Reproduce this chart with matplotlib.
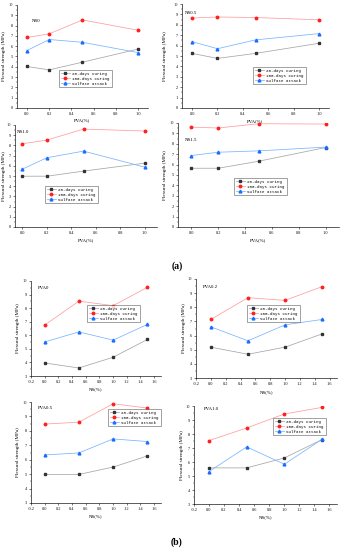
import matplotlib
matplotlib.use("Agg")
import matplotlib.pyplot as plt
from matplotlib.ticker import MultipleLocator

W, H = 342, 550

# x values
pva = [0.0, 0.2, 0.5, 1.0]
ns = [0.0, 0.5, 1.0, 1.5]

series_names = ["28-days curing", "100-days curing", "Sulfate attack"]

# (a) strength vs PVA, one panel per NS content
ns0_28 = [4.03, 3.70, 4.45, 5.72]
ns0_100 = [6.85, 7.20, 8.55, 7.55]
ns0_sul = [5.58, 6.65, 6.38, 5.38]

ns05_28 = [5.25, 4.77, 5.25, 6.22]
ns05_100 = [8.65, 8.75, 8.70, 8.48]
ns05_sul = [6.38, 5.70, 6.55, 7.15]

ns10_28 = [4.98, 4.98, 5.48, 6.26]
ns10_100 = [8.16, 8.52, 9.60, 9.41]
ns10_sul = [5.67, 6.79, 7.44, 5.87]

ns15_28 = [5.65, 5.65, 6.32, 7.64]
ns15_100 = [9.60, 9.52, 9.93, 9.90]
ns15_sul = [6.87, 7.19, 7.32, 7.68]

# (b) strength vs NS, one panel per PVA content
pva0_28 = [3.96, 3.59, 4.38, 5.69]
pva0_100 = [6.75, 8.52, 8.18, 9.53]
pva0_sul = [5.51, 6.25, 5.64, 6.80]

pva02_28 = [5.18, 4.68, 5.18, 6.12]
pva02_100 = [7.14, 8.68, 8.49, 9.46]
pva02_sul = [6.62, 5.63, 6.76, 7.14]

pva05_28 = [4.98, 4.98, 5.49, 6.26]
pva05_100 = [8.47, 8.60, 9.88, 9.58]
pva05_sul = [6.33, 6.47, 7.44, 7.26]

pva10_28 = [5.58, 5.58, 6.29, 7.60]
pva10_100 = [7.53, 8.43, 9.43, 9.90]
pva10_sul = [5.32, 7.08, 5.84, 7.62]

serif = "Liberation Serif"
mono = "Liberation Mono"

fig = plt.figure(figsize=(W / 100, H / 100), dpi=100)
fig.patch.set_facecolor("white")


def px_axes(l, t, r, b):
    return fig.add_axes([l / W, 1 - b / H, (r - l) / W, (b - t) / H])


def panel(box, x, d28, d100, dsul, title, title_pos, xlim, ylim, xlabel,
          xlabel_y, ylabel_x, leg_xy, xticks):
    ax = px_axes(*box)
    ax.plot(x, d28, color="#a6a6a6", lw=0.55, marker="s", ms=1.8,
            mfc="#333333", mec="#333333", label=series_names[0])
    ax.plot(x, d100, color="#ff9d9d", lw=0.55, marker="o", ms=1.8,
            mfc="#ff2020", mec="#ff2020", label=series_names[1])
    ax.plot(x, dsul, color="#7ab4ff", lw=0.55, marker="^", ms=2.0,
            mfc="#1a6dff", mec="#1a6dff", label=series_names[2])
    ax.set_xlim(*xlim)
    ax.set_ylim(*ylim)
    ax.set_xticks(xticks)
    ax.set_xticklabels([f"{v:.1f}" for v in xticks])
    ax.yaxis.set_major_locator(MultipleLocator(1))
    ax.yaxis.set_minor_locator(MultipleLocator(0.5))
    for s in ["top", "right"]:
        ax.spines[s].set_visible(False)
    for s in ["left", "bottom"]:
        ax.spines[s].set_linewidth(0.45)
    ax.tick_params(which="major", length=1.5, width=0.4, pad=1.5,
                   labelsize=3.2, colors="#111111")
    ax.tick_params(which="minor", length=0.8, width=0.3)
    for lab in ax.get_xticklabels() + ax.get_yticklabels():
        lab.set_family(serif)
    ax.set_xlabel(xlabel, fontsize=3.5, family=serif)
    ax.set_ylabel("Flexural strength (MPa)", fontsize=3.7, family=serif)
    l, t, r, b = box
    ax.xaxis.set_label_coords(0.5, (b - xlabel_y) / (b - t))
    ax.yaxis.set_label_coords((ylabel_x - l) / (r - l), 0.5)
    ax.text(title_pos[0], title_pos[1], title, transform=ax.transAxes,
            fontsize=3.5, family=serif, va="center", ha="left")
    leg = ax.legend(loc="upper left",
                    bbox_to_anchor=(leg_xy[0] / W, 1 - leg_xy[1] / H),
                    bbox_transform=fig.transFigure, prop={"family": mono, "size": 3.0},
                    frameon=True, fancybox=False, edgecolor="#333333",
                    borderpad=0.4, handlelength=2.2, handletextpad=0.6,
                    labelspacing=0.25, borderaxespad=0)
    leg.get_frame().set_linewidth(0.4)
    return ax


a_ticks = [0.0, 0.2, 0.4, 0.6, 0.8, 1.0]
b_ticks = [-0.2, 0.0, 0.2, 0.4, 0.6, 0.8, 1.0, 1.2, 1.4, 1.6]

panel((17, 5, 148, 108), pva, ns0_28, ns0_100, ns0_sul, "NS0", (0.11, 0.84),
      (-0.09, 1.09), (0, 10), "PVA(%)", 118, 6, (59, 70), a_ticks)
panel((182, 4, 329, 108), pva, ns05_28, ns05_100, ns05_sul, "NS0.5", (0.02, 0.91),
      (-0.08, 1.08), (0, 10), "PVA(%)", 119, 167, (253, 67), a_ticks)
panel((15, 125, 157, 227), pva, ns10_28, ns10_100, ns10_sul, "NS1.0", (0.01, 0.93),
      (-0.06, 1.1), (0, 10), "PVA(%)", 238, 6, (45, 186), a_ticks)
panel((178, 123, 339, 227), pva, ns15_28, ns15_100, ns15_sul, "NS1.5", (0.04, 0.84),
      (-0.1, 1.1), (0, 10), "PVA(%)", 238, 167, (234, 178), a_ticks)

panel((31, 281, 161, 376), ns, pva0_28, pva0_100, pva0_sul, "PVA0", (0.05, 0.93),
      (-0.2, 1.7), (3, 10), "NS(%)", 387, 20, (87, 305), b_ticks)
panel((196, 279, 337, 378), ns, pva02_28, pva02_100, pva02_sul, "PVA0.2", (0.05, 0.92),
      (-0.2, 1.7), (3, 10), "NS(%)", 390, 186, (247, 305), b_ticks)
panel((31, 402, 161, 503), ns, pva05_28, pva05_100, pva05_sul, "PVA0.5", (0.05, 0.94),
      (-0.2, 1.7), (3, 10), "NS(%)", 514, 20, (108, 409), b_ticks)
panel((194, 406, 337, 504), ns, pva10_28, pva10_100, pva10_sul, "PVA1.0", (0.07, 0.97),
      (-0.2, 1.7), (3, 10), "NS(%)", 515, 184, (273, 418), b_ticks)

fig.text(172 / W, 1 - 266 / H, "(a)", fontsize=7, family=serif,
         fontweight="bold", ha="left", va="center")
fig.text(171 / W, 1 - 542 / H, "(b)", fontsize=7, family=serif,
         fontweight="bold", ha="left", va="center")

fig.savefig("out.png", dpi=100, facecolor="white")
